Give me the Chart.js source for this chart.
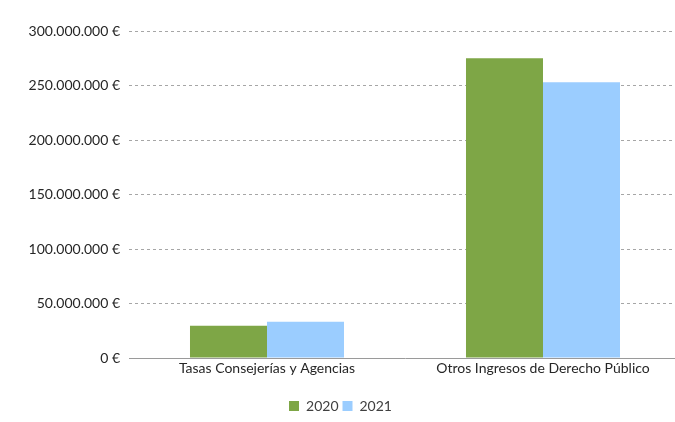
<!DOCTYPE html>
<html>
<head>
<meta charset="utf-8">
<script src="https://cdn.jsdelivr.net/npm/chart.js@4"></script>
<style>
  html, body { margin: 0; padding: 0; background: #fff; overflow: hidden; }
  #wrap { width: 675px; height: 422px; overflow: hidden; }
</style>
</head>
<body>
<div id="wrap"><canvas id="chart" width="681" height="422"></canvas></div>
<script>
const categories = ['Tasas Consejerías y Agencias', 'Otros Ingresos de Derecho Público'];
const years = ['2020', '2021'];
const values2020 = [29500000, 275000000];
const values2021 = [33200000, 253000000];
const yTicks = [0, 50000000, 100000000, 150000000, 200000000, 250000000, 300000000];

const fmt = v => v.toLocaleString('de-DE') + ' €';

const ctx = document.getElementById('chart').getContext('2d');
new Chart(ctx, {
  type: 'bar',
  data: {
    labels: categories,
    datasets: [
      { label: years[0], data: values2020, backgroundColor: '#7ea646' },
      { label: years[1], data: values2021, backgroundColor: '#9bcdff' }
    ]
  },
  options: {
    responsive: false,
    animation: false,
    layout: { padding: { top: 31, right: 0, left: 0, bottom: -1 } },
    datasets: { bar: { categoryPercentage: 0.558, barPercentage: 1 } },
    plugins: {
      legend: {
        position: 'bottom',
        labels: {
          boxWidth: 10, boxHeight: 10, padding: 4,
          color: '#404040', font: { family: 'Lato', size: 14 }
        }
      },
      tooltip: { enabled: false }
    },
    scales: {
      x: {
        afterFit: axis => { axis.height = 37; },
        grid: { display: false, drawTicks: false },
        border: { color: '#9a9a9a' },
        ticks: { color: '#262626', font: { family: 'Lato', size: 14 }, padding: 2 }
      },
      y: {
        min: 0, max: 300000000,
        afterBuildTicks: axis => { axis.ticks = yTicks.map(v => ({ value: v })); },
        afterFit: axis => { axis.width = 129; },
        border: { display: false, dash: [3, 3] },
        grid: {
          drawTicks: true, tickLength: 7, tickColor: 'rgba(0,0,0,0)',
          color: ctx => ctx.tick.value === 0 ? 'rgba(0,0,0,0)' : '#a6a6a6'
        },
        ticks: {
          color: '#262626', font: { family: 'Lato', size: 14 }, padding: 2,
          callback: v => fmt(v)
        }
      }
    }
  }
});
</script>
</body>
</html>
